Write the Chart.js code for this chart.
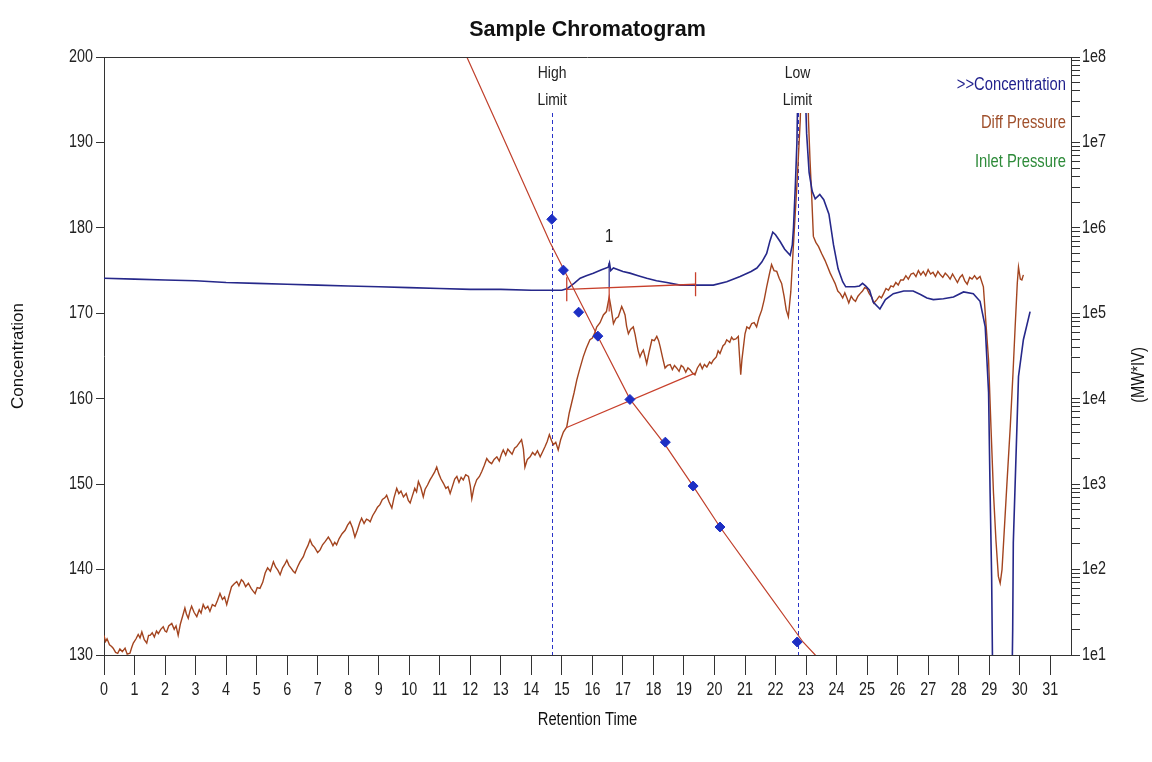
<!DOCTYPE html>
<html>
<head>
<meta charset="utf-8">
<title>Sample Chromatogram</title>
<script src="https://cdn.jsdelivr.net/npm/chart.js@4.4.1/dist/chart.umd.min.js"></script>
<style>
  html, body { margin: 0; padding: 0; background: #fff; }
  canvas { display: block; }
</style>
</head>
<body>
<canvas id="chart" width="1152" height="762"></canvas>
<script>
// tick labels
const timeTicks = [0, 1, 2, 3, 4, 5, 6, 7, 8, 9, 10, 11, 12, 13, 14, 15, 16, 17, 18, 19, 20, 21, 22, 23, 24, 25, 26, 27, 28, 29, 30, 31];
const concTicks = [130, 140, 150, 160, 170, 180, 190, 200];
const mwDecades = [1, 2, 3, 4, 5, 6, 7, 8];

// [retention time, concentration]
const concPoints = [
  [0, 174.1], [1, 174.0], [2, 173.9], [3, 173.8], [4, 173.6], [5, 173.5], [6, 173.4], [7, 173.3],
  [8, 173.2], [9, 173.1], [10, 173.0], [11, 172.9], [12, 172.8], [13, 172.8], [14, 172.7], [15, 172.7],
  [15.18, 172.9], [15.4, 173.5], [15.6, 174.1], [15.8, 174.4], [16.03, 174.7], [16.3, 175.1], [16.52, 175.4],
  [16.56, 175.9], [16.6, 175.0], [16.69, 175.3], [17.0, 174.9], [17.23, 174.7], [17.5, 174.4], [17.78, 174.1],
  [18.1, 173.8], [18.44, 173.6], [18.87, 173.3], [19.4, 173.3], [19.96, 173.3], [20.4, 173.7], [20.84, 174.3],
  [21.2, 174.9], [21.39, 175.3], [21.55, 176.0], [21.71, 177.0], [21.82, 178.5], [21.91, 179.5], [22.0, 179.2],
  [22.15, 178.4], [22.3, 177.5], [22.48, 176.8], [22.55, 178.0], [22.59, 180.1], [22.65, 185.0], [22.7, 189.9],
  [22.78, 206], [22.9, 206], [22.95, 199], [23.02, 191], [23.1, 186.5], [23.2, 184.3], [23.3, 183.4],
  [23.45, 183.9], [23.58, 183.3], [23.75, 181.6], [23.9, 178.0], [24.05, 175.2], [24.2, 173.7], [24.3, 173.1],
  [24.6, 173.1], [24.75, 173.2], [24.85, 173.5], [24.95, 173.2], [25.08, 172.7], [25.2, 171.3], [25.42, 170.5],
  [25.6, 171.6], [25.86, 172.3], [26.2, 172.6], [26.51, 172.6], [26.75, 172.2], [26.96, 171.8], [27.17, 171.6],
  [27.5, 171.7], [27.83, 171.9], [28.16, 172.5], [28.48, 172.3], [28.7, 171.4], [28.87, 168.4], [28.98, 160.7],
  [29.03, 149.0], [29.08, 139.2], [29.12, 125], [29.74, 125], [29.77, 133], [29.79, 143.1], [29.96, 162.6],
  [30.12, 166.9], [30.34, 170.2]
];

// [retention time, diff pressure]
const diffPoints = [
  [0.00, 132.3], [0.05, 131.6], [0.10, 131.9], [0.18, 131.2], [0.25, 131.0], [0.30, 130.8], [0.38, 130.3],
  [0.45, 130.2], [0.52, 130.7], [0.60, 130.4], [0.69, 130.8], [0.76, 130.1], [0.85, 130.2], [0.91, 130.9],
  [0.96, 131.4], [1.05, 131.9], [1.12, 132.4], [1.18, 132.0], [1.24, 132.7], [1.32, 131.8], [1.40, 131.4],
  [1.46, 132.3], [1.51, 132.3], [1.58, 132.6], [1.65, 132.1], [1.72, 132.8], [1.78, 132.5], [1.86, 133.0],
  [1.94, 133.3], [2.00, 132.8], [2.05, 132.7], [2.12, 133.4], [2.22, 133.7], [2.30, 133.0], [2.36, 133.4],
  [2.43, 132.3], [2.50, 133.6], [2.58, 134.6], [2.65, 135.5], [2.70, 134.8], [2.76, 134.3], [2.82, 135.2],
  [2.87, 135.7], [2.95, 135.0], [3.04, 134.5], [3.12, 135.3], [3.18, 134.9], [3.25, 135.9], [3.32, 135.4],
  [3.40, 135.7], [3.47, 135.1], [3.55, 135.9], [3.64, 135.7], [3.72, 136.4], [3.80, 137.2], [3.88, 136.5],
  [3.95, 136.8], [4.02, 135.9], [4.10, 137.0], [4.18, 138.0], [4.26, 138.3], [4.35, 138.6], [4.42, 138.1],
  [4.50, 138.8], [4.56, 138.6], [4.64, 138.0], [4.73, 138.4], [4.82, 137.8], [4.88, 137.5], [4.95, 137.2],
  [5.02, 137.9], [5.11, 137.8], [5.20, 138.5], [5.28, 139.6], [5.36, 140.2], [5.45, 139.8], [5.55, 140.9],
  [5.62, 140.3], [5.70, 139.9], [5.77, 139.4], [5.85, 140.2], [5.92, 140.6], [5.99, 141.1], [6.06, 140.5],
  [6.14, 140.1], [6.20, 139.8], [6.26, 139.6], [6.34, 140.3], [6.42, 140.9], [6.53, 141.5], [6.60, 142.2],
  [6.68, 142.8], [6.75, 143.5], [6.82, 142.9], [6.90, 142.6], [7.00, 142.0], [7.08, 142.3], [7.16, 142.9],
  [7.25, 143.3], [7.35, 143.8], [7.42, 143.4], [7.50, 142.8], [7.56, 143.2], [7.62, 142.9], [7.70, 143.6],
  [7.80, 144.2], [7.90, 144.6], [7.98, 145.2], [8.06, 145.6], [8.14, 144.9], [8.22, 143.8], [8.30, 144.6],
  [8.38, 145.5], [8.44, 146.0], [8.52, 145.4], [8.60, 145.9], [8.66, 145.8], [8.72, 145.6], [8.80, 146.3],
  [8.90, 146.9], [8.96, 147.3], [9.04, 147.6], [9.12, 148.2], [9.20, 148.4], [9.26, 148.7], [9.34, 147.9],
  [9.43, 147.2], [9.50, 148.4], [9.59, 149.5], [9.66, 148.9], [9.73, 149.2], [9.81, 148.5], [9.90, 148.9],
  [9.97, 148.1], [10.03, 147.8], [10.10, 148.6], [10.18, 149.5], [10.24, 149.1], [10.30, 150.3], [10.38, 149.6],
  [10.46, 148.5], [10.52, 149.4], [10.60, 149.9], [10.68, 150.5], [10.75, 150.9], [10.83, 151.4], [10.90, 152.0],
  [10.97, 151.2], [11.04, 150.6], [11.12, 150.1], [11.20, 149.5], [11.27, 149.7], [11.34, 148.9], [11.42, 149.8],
  [11.49, 150.6], [11.56, 150.9], [11.63, 150.2], [11.70, 150.8], [11.77, 150.5], [11.85, 151.1], [11.94, 150.9],
  [12.00, 149.8], [12.05, 148.3], [12.12, 149.6], [12.21, 150.5], [12.30, 150.9], [12.38, 151.5], [12.46, 152.2],
  [12.54, 153.0], [12.62, 152.6], [12.70, 152.4], [12.78, 152.9], [12.87, 153.2], [12.95, 152.7], [13.02, 153.5],
  [13.08, 154.0], [13.16, 153.4], [13.23, 154.1], [13.30, 153.8], [13.37, 153.5], [13.45, 154.2], [13.52, 154.4],
  [13.60, 154.8], [13.68, 155.2], [13.74, 154.1], [13.79, 152.0], [13.87, 152.9], [13.96, 153.2], [14.04, 153.7],
  [14.12, 153.4], [14.20, 153.9], [14.29, 153.2], [14.37, 153.8], [14.45, 154.4], [14.52, 155.0], [14.59, 155.8],
  [14.66, 155.1], [14.72, 154.6], [14.80, 154.9], [14.88, 154.0], [14.96, 155.2], [15.05, 156.1], [15.16, 156.7],
  [15.24, 158.3], [15.32, 159.5], [15.40, 160.7], [15.49, 162.2], [15.58, 163.4], [15.70, 164.9], [15.80, 165.9],
  [15.92, 166.9], [16.00, 167.1], [16.09, 167.8], [16.14, 168.4], [16.25, 168.9], [16.36, 169.8], [16.46, 170.2],
  [16.55, 171.9], [16.60, 170.9], [16.69, 168.8], [16.77, 169.4], [16.85, 169.6], [16.96, 170.8], [17.02, 170.3],
  [17.07, 169.8], [17.12, 168.5], [17.18, 167.6], [17.25, 168.1], [17.34, 168.4], [17.40, 167.5], [17.45, 166.5],
  [17.50, 165.6], [17.56, 164.9], [17.62, 165.4], [17.67, 165.7], [17.72, 165.0], [17.78, 164.1], [17.86, 165.5],
  [17.95, 166.9], [18.03, 166.8], [18.11, 167.3], [18.17, 166.8], [18.22, 166.1], [18.30, 164.8], [18.38, 163.6],
  [18.46, 163.9], [18.55, 164.0], [18.62, 163.4], [18.69, 163.9], [18.76, 163.6], [18.84, 163.2], [18.91, 163.9],
  [18.98, 163.7], [19.06, 163.1], [19.13, 163.6], [19.20, 163.4], [19.28, 163.0], [19.36, 162.8], [19.44, 163.6],
  [19.53, 164.1], [19.60, 163.5], [19.67, 164.0], [19.75, 163.7], [19.84, 164.3], [19.90, 164.1], [19.96, 164.5],
  [20.06, 164.9], [20.12, 165.6], [20.18, 165.3], [20.28, 166.2], [20.34, 166.4], [20.40, 166.9], [20.50, 166.6],
  [20.56, 167.2], [20.62, 166.9], [20.70, 167.0], [20.78, 167.3], [20.82, 165.0], [20.86, 162.8], [20.90, 164.6],
  [20.95, 166.1], [21.00, 167.6], [21.06, 168.4], [21.14, 168.2], [21.22, 168.8], [21.30, 168.9], [21.38, 168.4],
  [21.46, 169.5], [21.55, 170.4], [21.63, 171.6], [21.71, 173.1], [21.80, 174.6], [21.87, 175.7], [21.95, 175.0],
  [22.04, 174.9], [22.12, 174.1], [22.20, 173.5], [22.28, 172.0], [22.35, 170.4], [22.42, 169.6], [22.50, 172.5],
  [22.59, 178.2], [22.71, 185.6], [22.81, 192.6], [22.90, 206], [23.02, 206], [23.08, 192.6], [23.13, 187.9],
  [23.19, 183.3], [23.24, 179.0], [23.32, 178.3], [23.41, 177.8], [23.51, 177.0], [23.62, 176.2], [23.70, 175.5],
  [23.79, 174.7], [23.87, 174.1], [23.95, 173.5], [24.04, 172.6], [24.12, 172.3], [24.20, 171.8], [24.27, 172.4],
  [24.34, 171.8], [24.40, 171.2], [24.48, 172.0], [24.55, 171.6], [24.62, 171.4], [24.70, 172.0], [24.77, 172.3],
  [24.85, 172.6], [24.92, 173.0], [24.99, 172.9], [25.07, 172.3], [25.15, 171.9], [25.22, 171.2], [25.32, 171.6],
  [25.40, 172.0], [25.47, 171.8], [25.54, 172.3], [25.62, 172.9], [25.70, 172.7], [25.78, 173.2], [25.86, 173.1],
  [25.94, 173.6], [26.02, 173.3], [26.10, 173.9], [26.19, 173.9], [26.27, 174.4], [26.35, 174.0], [26.44, 174.6],
  [26.52, 174.7], [26.60, 174.3], [26.68, 175.0], [26.76, 174.5], [26.84, 174.9], [26.92, 174.4], [27.00, 175.1],
  [27.08, 174.6], [27.16, 174.8], [27.24, 174.3], [27.32, 174.9], [27.40, 174.5], [27.48, 174.2], [27.56, 174.7],
  [27.64, 174.4], [27.72, 174.0], [27.80, 174.6], [27.88, 174.1], [27.96, 173.6], [28.04, 174.2], [28.12, 174.5],
  [28.20, 173.8], [28.28, 173.4], [28.36, 174.2], [28.44, 174.0], [28.52, 174.4], [28.60, 174.0], [28.70, 174.3],
  [28.81, 173.1], [28.90, 168.5], [28.98, 164.5], [29.06, 156.5], [29.14, 149.0], [29.22, 143.5], [29.30, 139.2],
  [29.36, 138.4], [29.42, 140.0], [29.47, 143.1], [29.58, 150.0], [29.69, 156.7], [29.78, 163.0], [29.85, 168.4],
  [29.92, 173.5], [29.96, 175.4], [30.02, 174.0], [30.07, 173.9], [30.12, 174.5]
];

// calibration standards and fitted curve: [retention time, MW*IV]
const standardPoints = [
  [14.67, 1.26e6], [15.05, 3.2e5], [15.55, 1.03e5], [16.18, 5.4e4], [17.23, 9.8e3],
  [18.39, 3.1e3], [19.30, 950], [20.18, 315], [22.71, 14.2]
];
const calibrationPoints = [
  [11.86, 1.05e8], [12.98, 1.36e7], [14.61, 6.8e5], [16.15, 5.6e4], [17.23, 9.9e3], [18.38, 2.9e3],
  [19.30, 950], [20.18, 315], [21.49, 71], [22.90, 14.2], [23.30, 10], [23.62, 7]
];

// integration baselines and peak drop line
const concBaseline = [[15.16, 172.8], [19.38, 173.4]];
const diffBaseline = [[15.14, 156.6], [19.36, 163.0]];
const peakDropConc = [[16.55, 175.9], [16.55, 173.0]];
const peakDropDiff = [[16.55, 173.0], [16.55, 170.2]];

// annotations
const limitTime = [14.68, 22.72];
const limitText = [['High', 'Limit'], ['Low', 'Limit']];
const peakLabels = [{ t: 16.55, v: 178.9, text: '1' }];
const legendItems = [
  { text: '>>Concentration', color: '#1f1f8c' },
  { text: 'Diff Pressure', color: '#a0502c' },
  { text: 'Inlet Pressure', color: '#2e8b3a' }
];

const WIDE = '"Liberation Sans", Arial, sans-serif';
const SQUEEZE = 0.82;

// arial-like text squeezed sideways, like the narrow face of the original
function narrowText(ctx, s, x, y, align, size, color) {
  ctx.save();
  ctx.translate(x, y);
  ctx.scale(SQUEEZE, 1);
  ctx.font = size + 'px ' + WIDE;
  ctx.textAlign = align;
  ctx.textBaseline = 'middle';
  ctx.fillStyle = color;
  ctx.fillText(s, 0, 0);
  ctx.restore();
}

function mwLabel(v) {
  const e = Math.log10(v);
  return Math.abs(e - Math.round(e)) < 1e-6 ? '1e' + Math.round(e) : '';
}

const decor = {
  id: 'decor',
  beforeDatasetsDraw(chart) {
    const { ctx, chartArea: a, scales: { x } } = chart;
    ctx.save();
    ctx.strokeStyle = '#2a33c8';
    ctx.lineWidth = 1;
    ctx.setLineDash([4, 3]);
    limitTime.forEach(t => {
      const px = Math.round(x.getPixelForValue(t)) + 0.5;
      ctx.beginPath();
      ctx.moveTo(px, a.top);
      ctx.lineTo(px, a.bottom);
      ctx.stroke();
    });
    ctx.restore();
  },
  afterDatasetsDraw(chart) {
    const { ctx, chartArea: a, scales: { x, y } } = chart;
    ctx.save();

    // limit labels over a white box
    ctx.font = '16px ' + WIDE;
    limitTime.forEach((t, i) => {
      const px = x.getPixelForValue(t);
      const w = Math.max(...limitText[i].map(s => ctx.measureText(s).width)) * SQUEEZE + 6;
      ctx.fillStyle = '#fff';
      ctx.fillRect(px - w / 2, a.top, w, 56);
      limitText[i].forEach((s, j) => narrowText(ctx, s, px, a.top + 16 + j * 27, 'center', 17, '#222'));
    });

    // frame top
    ctx.strokeStyle = '#333';
    ctx.lineWidth = 1;
    ctx.beginPath();
    ctx.moveTo(a.left, a.top + 0.5);
    ctx.lineTo(a.right, a.top + 0.5);
    ctx.stroke();

    // peak number
    peakLabels.forEach(p => narrowText(ctx, p.text, x.getPixelForValue(p.t), y.getPixelForValue(p.v), 'center', 18, '#222'));

    // legend
    legendItems.forEach((it, i) => narrowText(ctx, it.text, a.right - 5, a.top + 28 + i * 38.5, 'right', 18, it.color));

    ctx.restore();
  },
  afterDraw(chart) {
    const { ctx, chartArea: a, scales: { x, y, y2 } } = chart;
    ctx.save();

    // tick labels from the library's own ticks
    x.ticks.forEach(tk => narrowText(ctx, String(tk.value), x.getPixelForValue(tk.value), a.bottom + 35, 'center', 17.5, '#222'));
    y.ticks.forEach(tk => narrowText(ctx, String(tk.value), a.left - 11, y.getPixelForValue(tk.value), 'right', 17.5, '#222'));
    y2.ticks.forEach(tk => {
      const s = mwLabel(tk.value);
      if (s) narrowText(ctx, s, a.right + 11, y2.getPixelForValue(tk.value), 'left', 17.5, '#222');
    });

    // titles
    ctx.fillStyle = '#111';
    ctx.textAlign = 'center';
    ctx.textBaseline = 'middle';
    ctx.font = 'bold 21.5px ' + WIDE;
    ctx.fillText('Sample Chromatogram', (a.left + a.right) / 2, 30);
    narrowText(ctx, 'Retention Time', (a.left + a.right) / 2, 720, 'center', 18, '#111');

    ctx.save();
    ctx.translate(18, (a.top + a.bottom) / 2);
    ctx.rotate(-Math.PI / 2);
    ctx.font = '17px ' + WIDE;
    ctx.fillStyle = '#111';
    ctx.fillText('Concentration', 0, 0);
    ctx.restore();

    ctx.save();
    ctx.translate(1139, 375);
    ctx.rotate(-Math.PI / 2);
    narrowText(ctx, '(MW*IV)', 0, 0, 'center', 18, '#111');
    ctx.restore();

    ctx.restore();
  }
};

const axisColor = '#333';

new Chart(document.getElementById('chart'), {
  type: 'line',
  data: {
    datasets: [
      {
        data: standardPoints, yAxisID: 'y2', showLine: false,
        pointStyle: 'rectRot', pointRadius: 5, pointBackgroundColor: '#1d2fc4', pointBorderColor: '#1d2fc4'
      },
      { data: calibrationPoints, yAxisID: 'y2', borderColor: '#c0402c', borderWidth: 1.2 },
      {
        data: concBaseline, borderColor: '#c8402c', borderWidth: 1.3,
        pointStyle: 'line', pointRadius: 12, pointRotation: 90, pointBorderColor: '#c8402c', pointBorderWidth: 1.3
      },
      { data: diffBaseline, borderColor: '#c8402c', borderWidth: 1.3 },
      { data: peakDropConc, borderColor: '#26288a', borderWidth: 1.2 },
      { data: peakDropDiff, borderColor: '#c8402c', borderWidth: 1.2 },
      { data: concPoints, borderColor: '#26288a', borderWidth: 1.6 },
      { data: diffPoints, borderColor: '#a3441f', borderWidth: 1.4 }
    ]
  },
  options: {
    responsive: false,
    animation: false,
    devicePixelRatio: 1,
    layout: { padding: { top: 57, left: 0, right: 0, bottom: 0 } },
    plugins: {
      legend: { display: false },
      tooltip: { enabled: false },
      title: { display: false }
    },
    elements: {
      point: { radius: 0 },
      line: { tension: 0, fill: false }
    },
    scales: {
      x: {
        type: 'linear',
        min: 0,
        max: 31.68,
        afterFit: s => { s.height = 107; },
        afterBuildTicks: s => { s.ticks = timeTicks.map(v => ({ value: v })); },
        ticks: { display: false, autoSkip: false, maxRotation: 0 },
        grid: { drawOnChartArea: false, tickLength: 20, color: axisColor },
        border: { color: axisColor }
      },
      y: {
        position: 'left',
        min: 130,
        max: 200,
        afterFit: s => { s.width = 104; },
        afterBuildTicks: s => { s.ticks = concTicks.map(v => ({ value: v })); },
        ticks: { display: false, autoSkip: false },
        grid: { drawOnChartArea: false, tickLength: 8, color: axisColor },
        border: { color: axisColor }
      },
      y2: {
        type: 'logarithmic',
        position: 'right',
        min: 10,
        max: 1e8,
        afterFit: s => { s.width = 81; },
        afterBuildTicks: s => {
          const t = [];
          mwDecades.forEach(e => {
            for (let k = 1; k < 10; k++) {
              if (e === 8 && k > 1) break;
              t.push({ value: k * Math.pow(10, e) });
            }
          });
          s.ticks = t;
        },
        ticks: { display: false, autoSkip: false },
        grid: { drawOnChartArea: false, tickLength: 9, color: axisColor },
        border: { color: axisColor }
      }
    }
  },
  plugins: [decor]
});
</script>
</body>
</html>
